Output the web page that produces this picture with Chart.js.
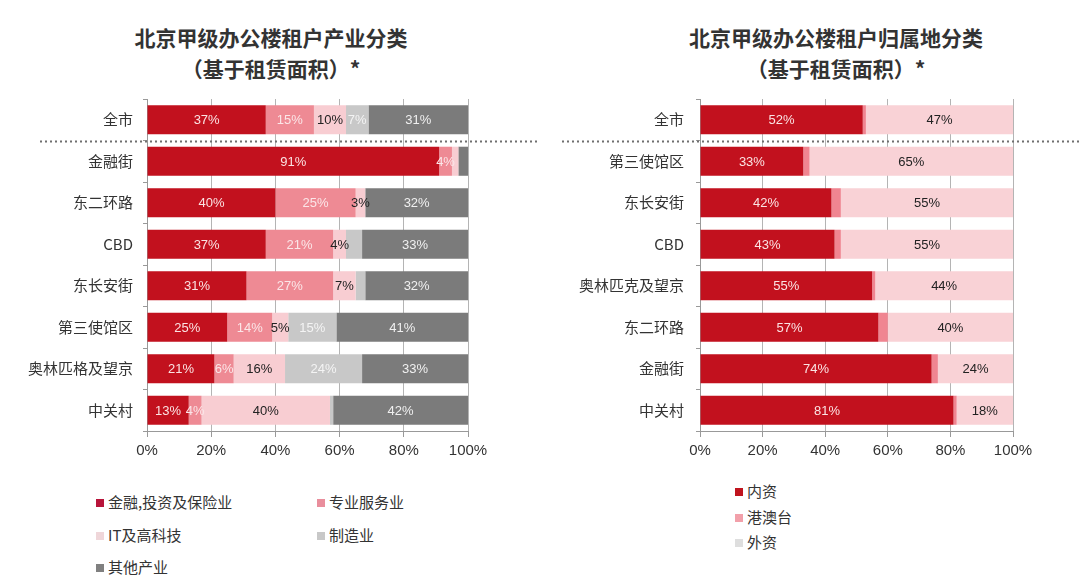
<!DOCTYPE html>
<html>
<head>
<meta charset="utf-8">
<script src="https://cdn.jsdelivr.net/npm/chart.js@4.4.1/dist/chart.umd.min.js"></script>
<style>
  html, body { margin: 0; padding: 0; background: #fff; }
  body { width: 1080px; height: 584px; position: relative; overflow: hidden;
         font-family: "Liberation Sans", "Noto Sans CJK SC", sans-serif; color: #333; }
  .title { position: absolute; top: 22px; text-align: center; font-family: "Noto Sans CJK SC", sans-serif;
           font-weight: bold; font-size: 21px; line-height: 31px; color: #333; }
  canvas { position: absolute; top: 0; }
  .legend { position: absolute; font-family: "Noto Sans CJK SC", sans-serif; font-size: 15px; color: #333; }
  .legend .item { position: absolute; white-space: nowrap; line-height: 18px; }
  .legend .box { display: inline-block; width: 8px; height: 8px; margin-right: 4px; vertical-align: 1px; }
</style>
</head>
<body>
<div class="title" id="titleL" style="left:0;width:542px;"></div>
<div class="title" id="titleR" style="left:540px;width:592px;"></div>
<canvas id="left" width="540" height="470" style="left:0;width:540px;height:470px;"></canvas>
<canvas id="right" width="540" height="470" style="left:540px;width:540px;height:470px;"></canvas>
<div class="legend" id="legendL"></div>
<div class="legend" id="legendR"></div>
<script>
// ---------- data ----------
const leftTitle = ['北京甲级办公楼租户产业分类', '（基于租赁面积）*'];
const rightTitle = ['北京甲级办公楼租户归属地分类', '（基于租赁面积）*'];

const leftCategories = ['全市', '金融街', '东二环路', 'CBD', '东长安街', '第三使馆区', '奥林匹格及望京', '中关村'];
const industrySeries = ['金融,投资及保险业', '专业服务业', 'IT及高科技', '制造业', '其他产业'];
const finance        = [37, 91, 40, 37, 31, 25, 21, 13];
const professional   = [15,  4, 25, 21, 27, 14,  6,  4];
const itTech         = [10,  2,  3,  4,  7,  5, 16, 40];
const manufacturing  = [ 7,  0,  0,  5,  3, 15, 24,  1];
const otherIndustry  = [31,  3, 32, 33, 32, 41, 33, 42];

const rightCategories = ['全市', '第三使馆区', '东长安街', 'CBD', '奥林匹克及望京', '东二环路', '金融街', '中关村'];
const originSeries = ['内资', '港澳台', '外资'];
const domestic  = [52, 33, 42, 43, 55, 57, 74, 81];
const hkMacauTw = [ 1,  2,  3,  2,  1,  3,  2,  1];
const foreign   = [47, 65, 55, 55, 44, 40, 24, 18];

const xTicks = [0, 20, 40, 60, 80, 100];

// ---------- styles ----------
const RED = '#c2111e', PINK = '#ee8a94', LIGHTPINK = '#f8cdd2', LIGHTGREY = '#c8c8c8', DARKGREY = '#7b7b7b';
const leftColors = [RED, PINK, LIGHTPINK, LIGHTGREY, DARKGREY];
const leftLabelColors = ['#fbe3e3', '#fbe6e8', '#222', '#f4f4f4', '#f0f0f0'];
const leftLabelMin = [3, 4, 3, 6, 5];
const rightColors = [RED, '#f08591', '#f9d2d6'];
const rightLabelColors = ['#fbe3e3', '#fbe6e8', '#222'];
const rightLabelMin = [3, 5, 3];

document.getElementById('titleL').innerHTML = leftTitle.join('<br>');
document.getElementById('titleR').innerHTML = rightTitle.join('<br>');

const valueLabels = {
  id: 'valueLabels',
  afterDatasetsDraw(chart, args, opts) {
    const ctx = chart.ctx;
    ctx.save();
    ctx.font = '13px "Liberation Sans", Arial, sans-serif';
    ctx.textAlign = 'center';
    ctx.textBaseline = 'middle';
    chart.data.datasets.forEach((ds, di) => {
      const meta = chart.getDatasetMeta(di);
      meta.data.forEach((el, i) => {
        const v = ds.data[i];
        if (v < opts.min[di]) return;
        ctx.fillStyle = opts.colors[di];
        ctx.fillText(v + '%', (el.x + el.base) / 2, el.y + 1);
      });
    });
    ctx.restore();
  }
};

const divider = {
  id: 'divider',
  afterDraw(chart, args, opts) {
    const y = chart.scales.y;
    const yy = Math.round((y.getPixelForValue(0) + y.getPixelForValue(1)) / 2) + 0.5;
    const ctx = chart.ctx;
    ctx.save();
    ctx.strokeStyle = '#6f6f6f';
    ctx.lineWidth = 2;
    ctx.setLineDash([2, 3]);
    ctx.beginPath();
    ctx.moveTo(chart.chartArea.left - opts.extendLeft, yy);
    ctx.lineTo(chart.chartArea.right + opts.extendRight, yy);
    ctx.stroke();
    ctx.restore();
  }
};

function makeChart(id, categories, series, values, colors, labelColors, labelMin, yWidth, rightPad, extL, extR, yPad) {
  return new Chart(document.getElementById(id), {
    type: 'bar',
    data: {
      labels: categories,
      datasets: series.map((name, i) => ({
        label: name,
        data: values[i],
        backgroundColor: colors[i],
        borderWidth: 0,
        barPercentage: 0.7,
        categoryPercentage: 1.0
      }))
    },
    options: {
      indexAxis: 'y',
      responsive: false,
      animation: false,
      devicePixelRatio: 1,
      layout: { padding: { left: 0, right: rightPad, top: 99, bottom: 0 } },
      plugins: {
        legend: { display: false },
        tooltip: { enabled: false },
        valueLabels: { colors: labelColors, min: labelMin },
        divider: { extendLeft: extL, extendRight: extR }
      },
      scales: {
        x: {
          stacked: true,
          min: 0, max: 100,
          afterBuildTicks(scale) { scale.ticks = xTicks.map(v => ({ value: v })); },
          afterFit(scale) { scale.height = 39; },
          ticks: {
            callback: v => v + '%',
            color: '#333',
            font: { size: 15, family: '"Liberation Sans", Arial, sans-serif' },
            padding: 5
          },
          grid: { color: '#b4b4b4', lineWidth: 1, tickLength: 6, tickColor: '#999' },
          border: { color: '#999', width: 1 }
        },
        y: {
          stacked: true,
          afterFit(scale) { scale.width = yWidth; },
          ticks: {
            color: '#333',
            font: { size: 15, family: '"Noto Sans CJK SC", "Liberation Sans", sans-serif' },
            padding: yPad
          },
          grid: { drawOnChartArea: false, tickLength: 4, tickColor: '#999', offset: true },
          border: { color: '#999', width: 1 }
        }
      }
    },
    plugins: [valueLabels, divider]
  });
}

makeChart('left', leftCategories, industrySeries,
  [finance, professional, itTech, manufacturing, otherIndustry],
  leftColors, leftLabelColors, leftLabelMin, 147, 72, 107, 70, 10);
makeChart('right', rightCategories, originSeries,
  [domestic, hkMacauTw, foreign],
  rightColors, rightLabelColors, rightLabelMin, 160, 67, 138, 67, 12);

// ---------- HTML legends ----------
function buildLegend(elId, names, colors, positions) {
  const el = document.getElementById(elId);
  names.forEach((n, i) => {
    const d = document.createElement('div');
    d.className = 'item';
    d.style.left = positions[i][0] + 'px';
    d.style.top = positions[i][1] + 'px';
    d.innerHTML = '<span class="box" style="background:' + colors[i] + '"></span>' + n;
    el.appendChild(d);
  });
}
buildLegend('legendL', industrySeries, ['#b8143a', '#e98e9c', '#efd6d9', '#c8c8c8', '#808080'],
  [[96, 493], [317, 493], [96, 526], [317, 526], [96, 558]]);
buildLegend('legendR', originSeries, ['#c0141e', '#f2a0aa', '#dedede'],
  [[735, 482], [735, 508], [735, 533]]);
</script>
</body>
</html>
